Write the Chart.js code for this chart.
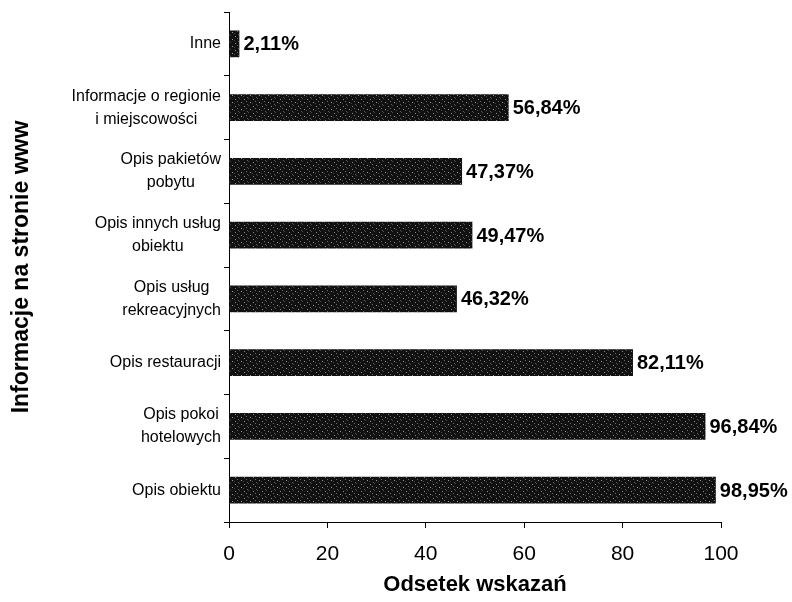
<!DOCTYPE html>
<html>
<head>
<meta charset="utf-8">
<script src="https://cdn.jsdelivr.net/npm/chart.js@4"></script>
<style>
  html, body { margin: 0; padding: 0; background: #fff; }
  #wrap { width: 792px; height: 602px; position: relative; }
</style>
</head>
<body>
<div id="wrap"><canvas id="c"></canvas></div>
<script>
// dane
const categories = [
  ['Inne'],
  ['Informacje o regionie', 'i miejscowości'],
  ['Opis pakietów', 'pobytu'],
  ['Opis innych usług', 'obiektu'],
  ['Opis usług', 'rekreacyjnych'],
  ['Opis restauracji'],
  ['Opis pokoi', 'hotelowych'],
  ['Opis obiektu']
];
const values = [2.11, 56.84, 47.37, 49.47, 46.32, 82.11, 96.84, 98.95];
const xTicks = [0, 20, 40, 60, 80, 100];

const FONT = 'Arial, "Liberation Sans", sans-serif';

// ciemna, "ziarnista" tekstura słupków (stały wzór)
function barPattern() {
  const t = document.createElement('canvas');
  t.width = 9; t.height = 7;
  const g = t.getContext('2d');
  g.fillStyle = '#111';
  g.fillRect(0, 0, 9, 7);
  const specks = [[1,1,'#8a8a8a'],[5,0,'#4a4a4a'],[3,3,'#6a6a6a'],[7,4,'#9a9a9a'],[0,5,'#444'],[4,6,'#5a5a5a']];
  specks.forEach(([x, y, c]) => { g.fillStyle = c; g.fillRect(x, y, 1, 1); });
  return g.createPattern(t, 'repeat');
}

// etykiety kategorii: blok wyrównany do prawej, wiersze wyśrodkowane
const catLabels = {
  id: 'catLabels',
  afterDraw(chart) {
    const ctx = chart.ctx, ys = chart.scales.y;
    ctx.save();
    ctx.font = '16px ' + FONT;
    ctx.fillStyle = '#000';
    ctx.textAlign = 'center';
    ctx.textBaseline = 'middle';
    const right = ys.right - 8, lh = 23;
    categories.forEach((lines, i) => {
      const cy = ys.getPixelForValue(i);
      const w = Math.max(...lines.map(l => ctx.measureText(l).width));
      const cx = right - w / 2;
      lines.forEach((l, k) => {
        ctx.fillText(l, cx, cy + (k - (lines.length - 1) / 2) * lh);
      });
    });
    ctx.restore();
  }
};

// wartości przy końcach słupków
const valueLabels = {
  id: 'valueLabels',
  afterDatasetsDraw(chart) {
    const ctx = chart.ctx;
    const meta = chart.getDatasetMeta(0);
    ctx.save();
    ctx.font = 'bold 20px ' + FONT;
    ctx.fillStyle = '#000';
    ctx.textAlign = 'left';
    ctx.textBaseline = 'middle';
    meta.data.forEach((bar, i) => {
      ctx.fillText(values[i].toFixed(2).replace('.', ',') + '%', bar.x + 4, bar.y + 1);
    });
    ctx.restore();
  }
};

new Chart(document.getElementById('c'), {
  type: 'bar',
  data: {
    labels: categories,
    datasets: [{
      data: values,
      backgroundColor: barPattern(),
      borderWidth: 0,
      barPercentage: 0.42,
      categoryPercentage: 1
    }]
  },
  options: {
    indexAxis: 'y',
    responsive: true,
    maintainAspectRatio: false,
    animation: false,
    layout: { padding: { top: 12, right: 71, bottom: 0, left: 0 } },
    plugins: { legend: { display: false }, tooltip: { enabled: false } },
    scales: {
      x: {
        min: 0, max: 100,
        afterBuildTicks: s => { s.ticks = xTicks.map(v => ({ value: v })); },
        afterFit: s => { s.height = 80; },
        grid: { drawOnChartArea: false, tickLength: 6, tickColor: '#000', tickWidth: 1 },
        border: { color: '#000', width: 1 },
        ticks: { color: '#000', font: { family: FONT, size: 21 }, padding: 14, maxRotation: 0 },
        title: {
          display: true, text: 'Odsetek wskazań', color: '#000',
          font: { family: FONT, size: 22, weight: 'bold' },
          padding: { top: 0, bottom: 4 }
        }
      },
      y: {
        afterFit: s => { s.width = 229; },
        grid: { drawOnChartArea: false, tickLength: 5, tickColor: '#000', tickWidth: 1, offset: true },
        border: { color: '#000', width: 1 },
        ticks: { display: false },
        title: {
          display: true, text: 'Informacje na stronie www', color: '#000',
          font: { family: FONT, size: 23, weight: 'bold' },
          padding: { top: 8, bottom: 0 }
        }
      }
    }
  },
  plugins: [catLabels, valueLabels]
});
</script>
</body>
</html>
